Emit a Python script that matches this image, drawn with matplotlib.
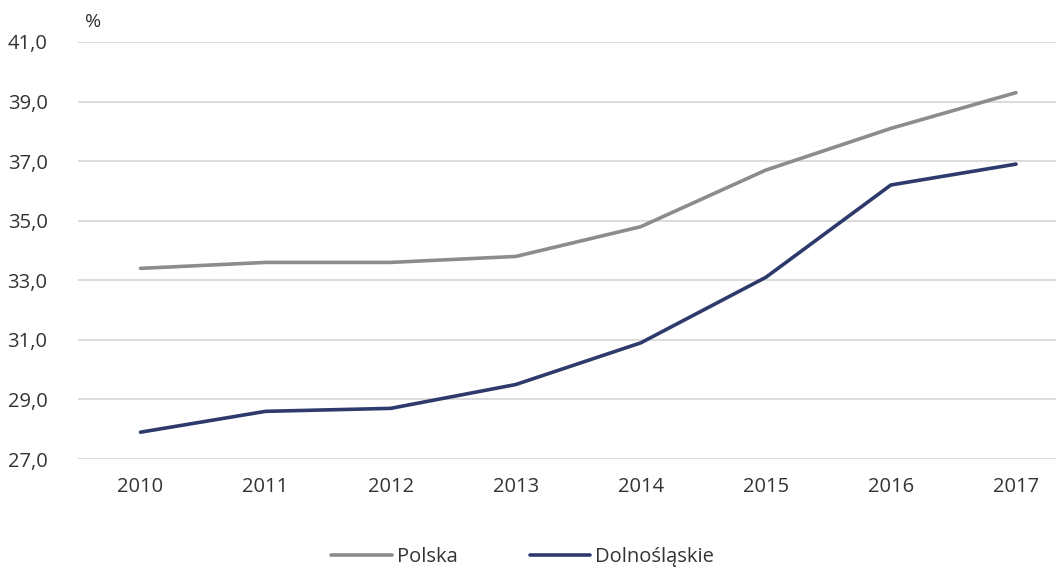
import matplotlib.pyplot as plt

# Dane
lata = ['2010', '2011', '2012', '2013', '2014', '2015', '2016', '2017']
polska = [33.4, 33.6, 33.6, 33.8, 34.8, 36.7, 38.1, 39.3]
dolnoslaskie = [27.9, 28.6, 28.7, 29.5, 30.9, 33.1, 36.2, 36.9]
y_ticks = [27, 29, 31, 33, 35, 37, 39, 41]

plt.rcParams['font.family'] = ['Open Sans', 'DejaVu Sans']

fig = plt.figure(figsize=(10.56, 5.69), dpi=100)
ax = fig.add_axes([78 / 1056, 1 - 459 / 569, (1056 - 78) / 1056, (459 - 42) / 569])

x = range(len(lata))
ax.plot(x, polska, color='#8c8c8c', lw=2.6, solid_capstyle='round', label='Polska')
ax.plot(x, dolnoslaskie, color='#2e3a6b', lw=2.6, solid_capstyle='round', label='Dolnośląskie')

ax.set_xlim(-0.5, 7.32)
ax.set_ylim(27, 41)
ax.set_xticks(list(x))
ax.set_xticklabels(lata)
ax.set_yticks(y_ticks)
ax.set_yticklabels([f'{v:.1f}'.replace('.', ',') for v in y_ticks])
ax.tick_params(axis='both', length=0, labelsize=14.5, colors='#333333')
ax.tick_params(axis='y', pad=22)
ax.tick_params(axis='x', pad=13)
ax.grid(axis='y', color='#dcdcdc', lw=1.4)
ax.set_axisbelow(True)
for s in ax.spines.values():
    s.set_visible(False)

fig.text(93 / 1056, 1 - 22 / 569, '%', fontsize=14, color='#333333', ha='center', va='center')

fig.legend(loc='center', bbox_to_anchor=(0.495, 1 - 557 / 569), ncol=2, frameon=False,
           fontsize=14.5, handlelength=3.0, columnspacing=3.6, handletextpad=0.25,
           labelcolor='#333333')

fig.savefig('out.png', dpi=100)
